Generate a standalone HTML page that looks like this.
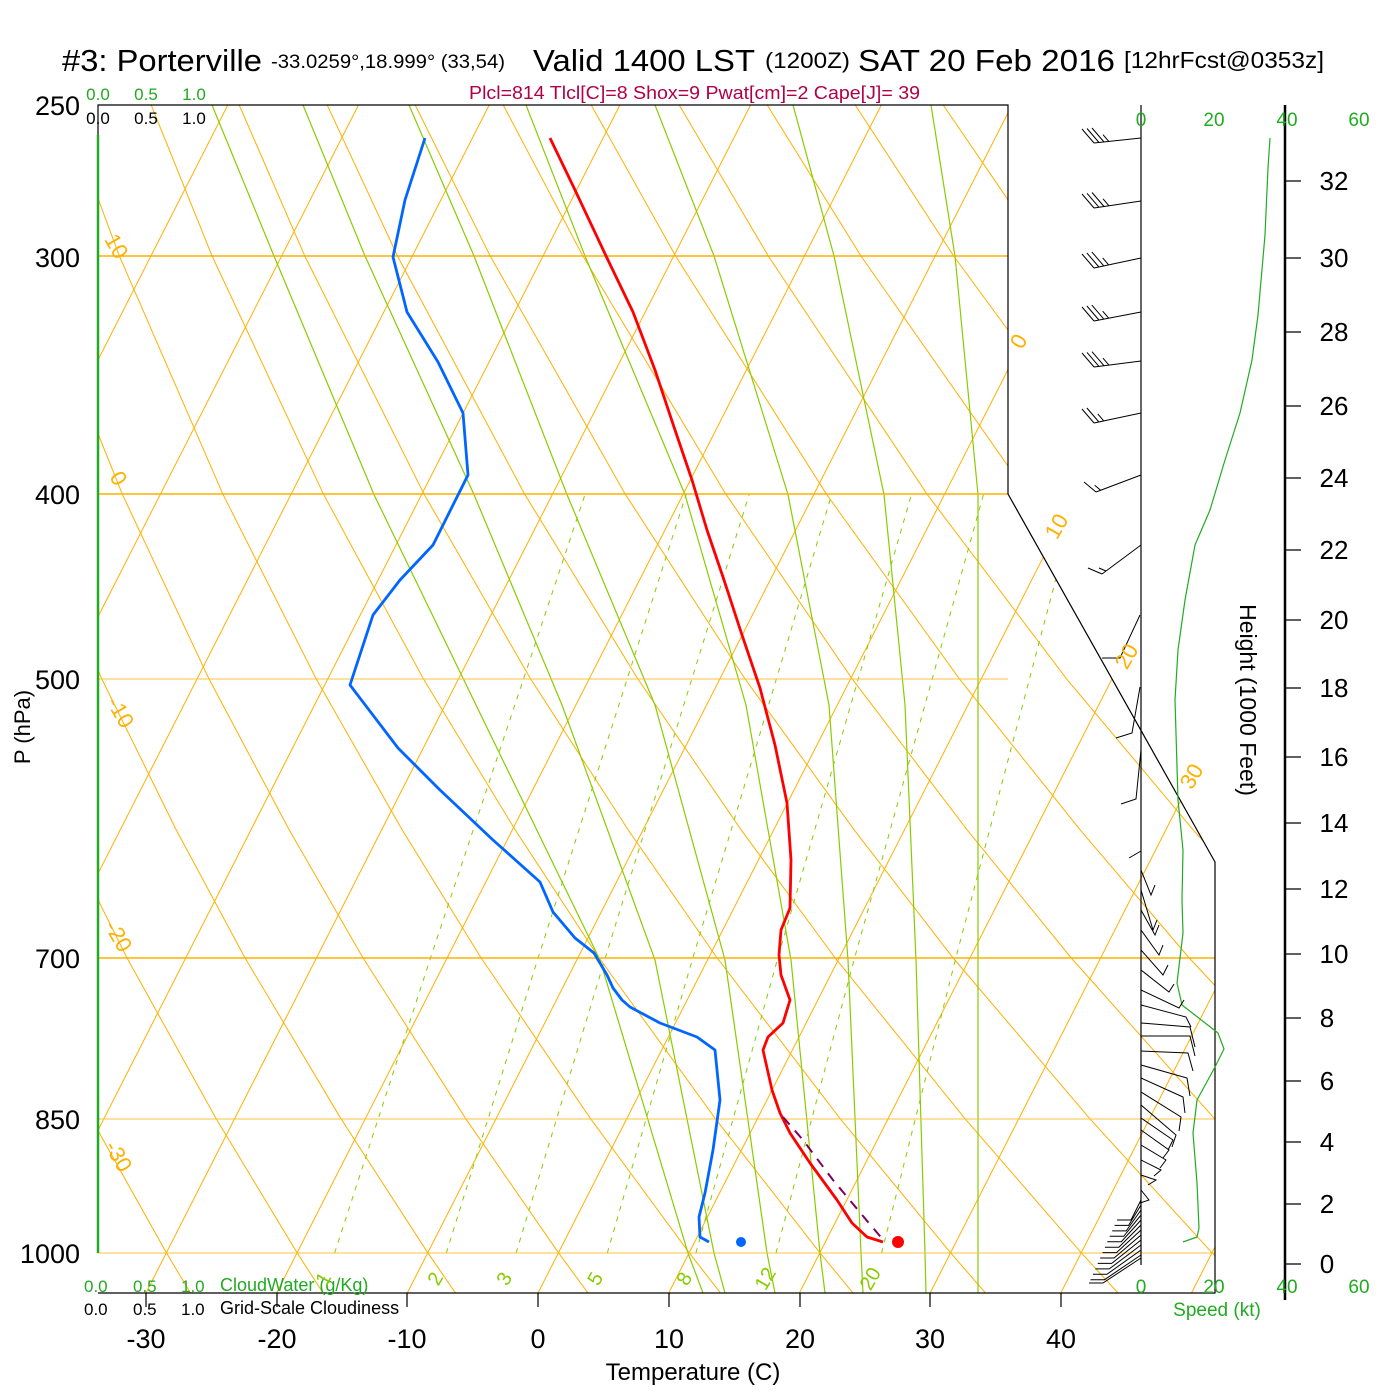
<!DOCTYPE html>
<html><head><meta charset="utf-8"><style>html,body{margin:0;padding:0;background:#fff}svg{display:block}</style></head>
<body>
<svg width="1400" height="1400" xmlns="http://www.w3.org/2000/svg" font-family="Liberation Sans, Arial, sans-serif">
<defs><clipPath id="cp"><polygon points="98,105 1008,105 1008,494 1215,862 1215,1293 98,1293"/></clipPath></defs>
<rect width="1400" height="1400" fill="#fff"/>
<g clip-path="url(#cp)" fill="none">
<path stroke="#ffb000" stroke-width="1" d="M-507.6,1293L97.1,105M-376.9,1293L227.8,105M-246.2,1293L358.5,105M-115.5,1293L489.2,105M15.2,1293L619.9,105M145.9,1293L750.6,105M276.6,1293L881.3,105M407.3,1293L1012,105M538,1293L1142.7,105M668.7,1293L1273.4,105M799.4,1293L1404.1,105M930.1,1293L1534.8,105M1060.8,1293L1665.5,105M1191.5,1293L1796.2,105"/>
<g stroke="#ffb000" stroke-width="1">
<polyline points="190.5,1293 166.4,1252.8 91.1,1118.3 8.8,957.5 -49.8,829.9 -112.6,678.9 -179.5,494.2 -251.4,256 -288.8,105"/>
<polyline points="323,1293 297.1,1252.8 215.9,1118.3 126.8,957.5 63.2,829.9 -5.4,678.9 -78.9,494.2 -158.7,256 -200.8,105"/>
<polyline points="455.5,1293 427.8,1252.8 340.7,1118.3 244.8,957.5 176.2,829.9 101.8,678.9 21.7,494.2 -66,256 -112.8,105"/>
<polyline points="588,1293 558.5,1252.8 465.5,1118.3 362.8,957.5 289.2,829.9 209,678.9 122.3,494.2 26.7,256 -24.8,105"/>
<polyline points="720.5,1293 689.2,1252.8 590.3,1118.3 480.8,957.5 402.2,829.9 316.2,678.9 222.9,494.2 119.4,256 63.2,105"/>
<polyline points="853,1293 819.9,1252.8 715.1,1118.3 598.8,957.5 515.2,829.9 423.4,678.9 323.5,494.2 212.1,256 151.2,105"/>
<polyline points="985.5,1293 950.6,1252.8 839.9,1118.3 716.8,957.5 628.2,829.9 530.6,678.9 424.1,494.2 304.8,256 239.2,105"/>
<polyline points="1118,1293 1081.3,1252.8 964.7,1118.3 834.8,957.5 741.2,829.9 637.8,678.9 524.7,494.2 397.5,256 327.2,105"/>
<polyline points="1250.5,1293 1212,1252.8 1089.5,1118.3 952.8,957.5 854.2,829.9 745,678.9 625.3,494.2 490.2,256 415.2,105"/>
<polyline points="1383,1293 1342.7,1252.8 1214.3,1118.3 1070.8,957.5 967.2,829.9 852.2,678.9 725.9,494.2 582.9,256 503.2,105"/>
<polyline points="1515.5,1293 1473.4,1252.8 1339.1,1118.3 1188.8,957.5 1080.2,829.9 959.4,678.9 826.5,494.2 675.6,256 591.2,105"/>
<polyline points="1648,1293 1604.1,1252.8 1463.9,1118.3 1306.8,957.5 1193.2,829.9 1066.6,678.9 927.1,494.2 768.3,256 679.2,105"/>
<polyline points="1780.5,1293 1734.8,1252.8 1588.7,1118.3 1424.8,957.5 1306.2,829.9 1173.8,678.9 1027.7,494.2 861,256 767.2,105"/>
<polyline points="1913,1293 1865.5,1252.8 1713.5,1118.3 1542.8,957.5 1419.2,829.9 1281,678.9 1128.3,494.2 953.7,256 855.2,105"/>
<polyline points="2045.5,1293 1996.2,1252.8 1838.3,1118.3 1660.8,957.5 1532.2,829.9 1388.2,678.9 1228.9,494.2 1046.4,256 943.2,105"/>
<polyline points="2178,1293 2126.9,1252.8 1963.1,1118.3 1778.8,957.5 1645.2,829.9 1495.4,678.9 1329.5,494.2 1139.1,256 1031.2,105"/>
</g>
<g stroke="#88cc00" stroke-width="1.2">
<polyline points="212,105 274,256 374,494.6 476,705 600,960 688,1253 703,1293"/>
<polyline points="303,105 365,256 474,494.6 562,705 655,960 714,1253 725,1293"/>
<polyline points="409,105 474,256 567,494.6 655,705 725,960 767,1253 775,1293"/>
<polyline points="526,105 585,256 685,494.6 746,705 791,960 820,1253 825,1293"/>
<polyline points="655,105 714,256 788,494.6 829,705 848,960 861,1253 863,1293"/>
<polyline points="793,105 834,256 884,494.6 905,705 916,960 925,1253 926,1293"/>
<polyline points="931,105 955,256 978,494.6 978,705 978,960 978,1253 978,1293"/>
</g>
<g stroke="#88cc00" stroke-width="1" stroke-dasharray="5,6">
<polyline points="334.6,1253 430.5,958 585.2,494"/>
<polyline points="446.3,1253 538.1,958 686.2,494"/>
<polyline points="516.1,1253 605.2,958 749.3,494"/>
<polyline points="607.3,1253 692.8,958 831.8,494"/>
<polyline points="695.9,1253 777.8,958 911.6,494"/>
<polyline points="776,1253 854.6,958 983.6,494"/>
<polyline points="881.6,1253 955.8,958 1078.3,494"/>
</g>
<path stroke="#ffb000" stroke-width="1.5" d="M98,256H1008M98,494H1008M98,958H1215"/>
<path stroke="#ffc040" stroke-width="1" d="M98,679H1008M98,1119H1215M98,1253H1215"/>
</g>
<g fill="none" stroke="#000" stroke-width="1.2">
<path d="M98,135V105H1008V494L1215,862V1293H98"/>
<path d="M146,1293V1307M277,1293V1307M407,1293V1307M538,1293V1307M669,1293V1307M800,1293V1307M930,1293V1307M1061,1293V1307"/>
<path d="M1141,105V1265"/>
<path d="M1285,181H1301M1285,258H1301M1285,332H1301M1285,406H1301M1285,478H1301M1285,550H1301M1285,620H1301M1285,688H1301M1285,757H1301M1285,823H1301M1285,889H1301M1285,954H1301M1285,1018H1301M1285,1081H1301M1285,1142H1301M1285,1204H1301M1285,1264H1301"/>
</g>
<path d="M98,135V1253" stroke="#22aa22" stroke-width="2.5"/>
<path d="M1285,105V1300" stroke="#000" stroke-width="2.5"/>
<polyline fill="none" stroke="#22aa22" stroke-width="1.2" points="1270,138 1268,168 1265,235 1263,258 1258,315 1252,360 1240,413 1225,460 1210,510 1195,545 1185,600 1178,650 1175,700 1178,800 1183,850 1182,900 1183,933 1177,983 1182,1005 1218,1033 1224,1049 1215,1067 1197,1100 1193,1133 1197,1183 1199,1228 1197,1237 1183,1242"/>
<g fill="none" stroke="#000" stroke-width="1">
<path d="M1141,138L1094,143M1094,143l-12,-14M1099,142.5l-12,-14M1104,142l-12,-14M1109,141.7l-6,-7"/>
<path d="M1141,201L1094,208M1094,208l-12,-14M1099,207.3l-12,-14M1104,206.5l-12,-14M1109,205.8l-6,-7"/>
<path d="M1141,258L1094,268M1094,268l-12,-14M1098.9,267l-12,-14M1103.8,265.9l-12,-14M1108.7,264.9l-6,-7"/>
<path d="M1141,312L1094,321M1094,321l-12,-14M1098.9,320l-12,-14M1103.8,319.1l-12,-14M1108.7,318.2l-6,-7"/>
<path d="M1141,361L1094,367M1094,367l-12,-14M1099,366.4l-12,-14M1104,365.7l-12,-14M1108.9,365.1l-6,-7"/>
<path d="M1141,413L1094,423M1094,423l-12,-14M1098.9,422l-12,-14M1103.8,420.9l-6,-7"/>
<path d="M1141,475L1096,492M1096,492l-12,-10M1100.7,490.2l-6,-5"/>
<path d="M1141,545L1102,574M1102,574l-14,-6M1106,571l-7,-3"/>
<path d="M1140,615L1120,658L1102,658M1140,687L1132,733L1116,738M1141,750L1136,799L1121,804M1141,851L1129,858"/>
<path d="M1141,870L1151,895l4,-10M1141,890L1153,930l4,-10M1141,910L1155,935l4,-10M1141,930L1159,955l4,-10M1141,950L1163,975l5,-10M1141,970L1169,992l5,-8M1141,990L1179,1008l5,-8M1141,1005L1186,1017l5,10M1141,1023L1190,1027l5,20M1141,1036L1190,1036l5,20M1141,1051L1188,1053l5,18M1141,1065L1187,1078l3,18M1141,1078L1183,1097l2,16M1141,1092L1181,1117l-2,14M1141,1105L1176,1135l-4,12M1141,1118L1173,1140l-5,10M1141,1130L1169,1150l-6,8M1141,1145L1166,1160l-6,8M1141,1160L1161,1170l-7,6M1141,1175L1156,1180l-8,5M1141,1190L1149,1200l-9,3"/>
<path d="M1141,1200L1131,1220l-14,0M1141,1205L1128.6,1225.4l-14,0M1141,1210L1126.2,1230.9l-14,0M1141,1215L1123.7,1236.3l-14,0M1141,1220L1121.3,1241.7l-14,0M1141,1225L1118.9,1247.2l-14,0M1141,1230L1116.5,1252.6l-14,0M1141,1235L1114.1,1258l-14,0M1141,1240L1111.7,1263.4l-14,0M1141,1245L1109.3,1268.9l-14,0M1141,1250L1106.9,1274.3l-14,0M1141,1255L1104.5,1279.7l-14,0M1141,1258L1103,1283l-14,0"/>
</g>
<polyline fill="none" stroke="#ff0000" stroke-width="2.8" stroke-linejoin="round" points="550,138 575,190 607,258 633,312 655,370 675,430 692,480 707,530 724,580 742,635 760,688 775,745 787,803 791,860 790,908 781,930 779,955 781,975 790,1000 783,1023 768,1037 763,1050 772,1090 780,1113 790,1133 810,1163 837,1200 852,1223 867,1237 883,1242"/>
<polyline fill="none" stroke="#0066ff" stroke-width="2.8" stroke-linejoin="round" points="425,138 405,200 393,257 407,312 438,362 463,413 468,475 433,545 400,580 373,615 350,685 398,748 440,790 493,840 540,882 553,912 575,938 594,953 607,975 613,988 622,1000 630,1007 660,1023 697,1037 715,1050 720,1100 713,1150 705,1193 699,1217 700,1237 709,1242"/>
<polyline fill="none" stroke="#800060" stroke-width="2" stroke-dasharray="10,8" points="783,1117 803,1140 833,1180 868,1222 885,1242"/>
<circle cx="741" cy="1242" r="5" fill="#0066ff"/>
<circle cx="898" cy="1242" r="6" fill="#ff0000"/>
<text x="62" y="71" font-size="31" textLength="200" lengthAdjust="spacingAndGlyphs">#3: Porterville</text>
<text x="271" y="68" font-size="19" textLength="234" lengthAdjust="spacingAndGlyphs">-33.0259°,18.999° (33,54)</text>
<text x="533" y="71" font-size="31" textLength="222" lengthAdjust="spacingAndGlyphs">Valid 1400 LST</text>
<text x="765" y="68" font-size="22" textLength="85" lengthAdjust="spacingAndGlyphs">(1200Z)</text>
<text x="858" y="71" font-size="31" textLength="257" lengthAdjust="spacingAndGlyphs">SAT 20 Feb 2016</text>
<text x="1124" y="68" font-size="23" textLength="200" lengthAdjust="spacingAndGlyphs">[12hrFcst@0353z]</text>
<text x="469" y="99" font-size="18" fill="#b0004a" textLength="451" lengthAdjust="spacingAndGlyphs">Plcl=814 Tlcl[C]=8 Shox=9 Pwat[cm]=2 Cape[J]= 39</text>
<g font-size="17" fill="#22aa22" text-anchor="middle"><text x="98" y="100">0.0</text><text x="146" y="100">0.5</text><text x="194" y="100">1.0</text></g>
<g font-size="17" fill="#000" text-anchor="middle"><text x="98" y="124">0.0</text><text x="146" y="124">0.5</text><text x="194" y="124">1.0</text></g>
<g font-size="17" fill="#22aa22"><text x="84" y="1292">0.0</text><text x="133" y="1292">0.5</text><text x="181" y="1292">1.0</text><text x="220" y="1291" font-size="18">CloudWater (g/Kg)</text></g>
<g font-size="17" fill="#000"><text x="84" y="1315">0.0</text><text x="133" y="1315">0.5</text><text x="181" y="1315">1.0</text><text x="220" y="1314" font-size="18">Grid-Scale Cloudiness</text></g>
<g font-size="27" text-anchor="end"><text x="80" y="115">250</text><text x="80" y="267">300</text><text x="80" y="504">400</text><text x="80" y="689">500</text><text x="80" y="968">700</text><text x="80" y="1129">850</text><text x="80" y="1263">1000</text></g>
<text transform="translate(30,727) rotate(-90)" font-size="22" text-anchor="middle">P (hPa)</text>
<g font-size="27" text-anchor="middle"><text x="146" y="1348">-30</text><text x="277" y="1348">-20</text><text x="407" y="1348">-10</text><text x="538" y="1348">0</text><text x="669" y="1348">10</text><text x="800" y="1348">20</text><text x="930" y="1348">30</text><text x="1061" y="1348">40</text></g>
<text x="693" y="1380" font-size="24" text-anchor="middle">Temperature (C)</text>
<g font-size="19" fill="#22aa22" text-anchor="middle"><text x="1141" y="126">0</text><text x="1214" y="126">20</text><text x="1287" y="126">40</text><text x="1359" y="126">60</text>
<text x="1141" y="1293">0</text><text x="1214" y="1293">20</text><text x="1287" y="1293">40</text><text x="1359" y="1293">60</text>
<text x="1217" y="1316">Speed (kt)</text></g>
<text transform="translate(1240,700) rotate(90)" font-size="23" text-anchor="middle">Height (1000 Feet)</text>
<g font-size="26" text-anchor="middle">
<text x="1334" y="190">32</text><text x="1334" y="267">30</text><text x="1334" y="341">28</text><text x="1334" y="415">26</text><text x="1334" y="487">24</text><text x="1334" y="559">22</text><text x="1334" y="629">20</text><text x="1334" y="697">18</text><text x="1334" y="766">16</text><text x="1334" y="832">14</text><text x="1334" y="898">12</text><text x="1334" y="963">10</text><text x="1327" y="1027">8</text><text x="1327" y="1090">6</text><text x="1327" y="1151">4</text><text x="1327" y="1213">2</text><text x="1327" y="1273">0</text>
</g>
<g fill="#ffb000" font-size="22" text-anchor="middle">
<text transform="translate(110,250) rotate(60)">10</text>
<text transform="translate(112,482) rotate(60)">0</text>
<text transform="translate(114,716) rotate(60)">-10</text>
<text transform="translate(112,940) rotate(60)">-20</text>
<text transform="translate(112,1160) rotate(60)">-30</text>
<text transform="translate(1025,345) rotate(-60)">0</text>
<text transform="translate(1063,530) rotate(-60)">10</text>
<text transform="translate(1133,660) rotate(-60)">20</text>
<text transform="translate(1198,780) rotate(-60)">30</text>
</g>
<g fill="#88cc00" font-size="20" text-anchor="middle">
<text transform="translate(329,1282) rotate(-60)">1</text>
<text transform="translate(441,1282) rotate(-60)">2</text>
<text transform="translate(510,1282) rotate(-60)">3</text>
<text transform="translate(601,1282) rotate(-60)">5</text>
<text transform="translate(690,1282) rotate(-60)">8</text>
<text transform="translate(771,1282) rotate(-60)">12</text>
<text transform="translate(876,1282) rotate(-60)">20</text>
</g>
</svg>
</body></html>
